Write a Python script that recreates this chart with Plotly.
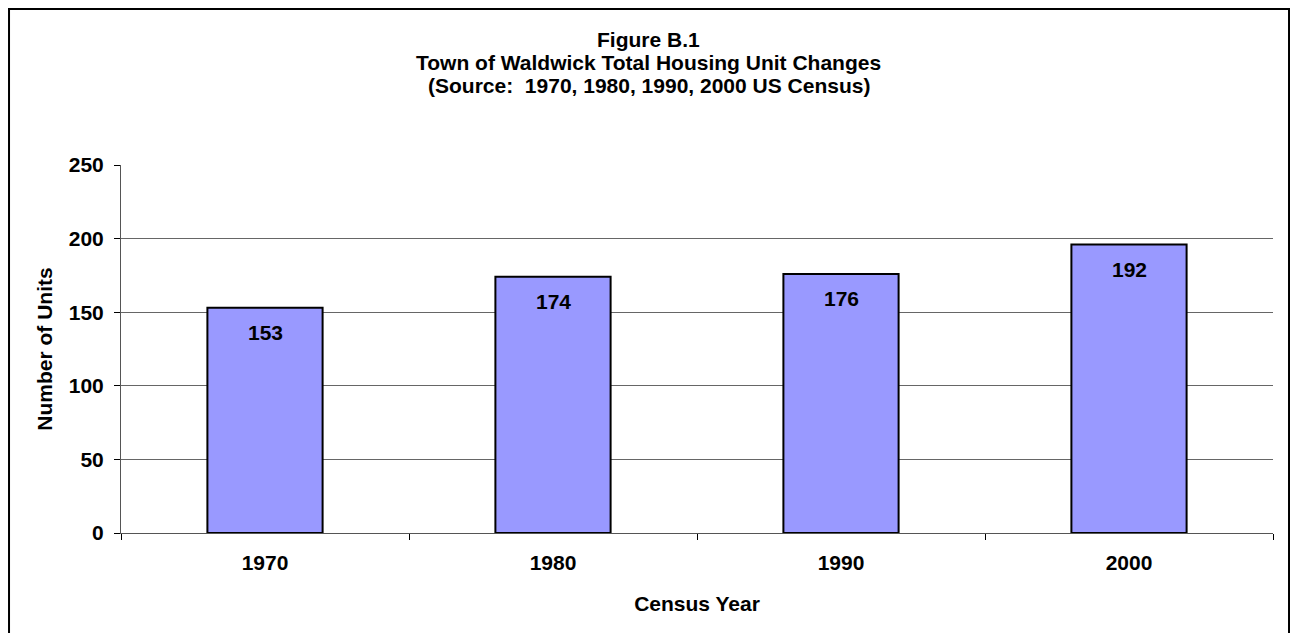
import plotly.graph_objects as go

years = ['1970', '1980', '1990', '2000']
units = [153, 174, 176, 196]
unit_labels = ['153', '174', '176', '192']
y_ticks = [0, 50, 100, 150, 200, 250]
title_lines = ['Figure B.1',
               'Town of Waldwick Total Housing Unit Changes',
               '(Source:  1970, 1980, 1990, 2000 US Census)']

font_family = 'Liberation Sans, Arial, sans-serif'
bold = dict(family=font_family, size=21, color='black', weight='bold')

fig = go.Figure()

fig.add_trace(go.Bar(
    x=years,
    y=units,
    width=0.4,
    marker=dict(color='#9999FF', line=dict(color='black', width=2)),
    showlegend=False,
    hoverinfo='skip',
))

# value labels inside the top of each bar (x given as category index)
for i, (val, lab) in enumerate(zip(units, unit_labels)):
    fig.add_annotation(x=i, y=val, text=lab, showarrow=False,
                       yshift=-25, font=bold)

# three-line title, tighter spacing than a <br> title
for line, ty in zip(title_lines, [1.3397, 1.2772, 1.2147]):
    fig.add_annotation(xref='paper', yref='paper', x=0.4583, y=ty, text=line,
                       showarrow=False, xanchor='center', yanchor='middle', font=bold)

# outer frame around the whole chart
fig.add_shape(type='rect', xref='paper', yref='paper',
              x0=-0.0972, x1=1.0139, y0=-0.32, y1=1.4239,
              line=dict(color='black', width=2), fillcolor='rgba(0,0,0,0)', layer='below')

fig.update_layout(
    width=1282, height=625,
    margin=dict(l=113, r=17, t=157, b=100),
    plot_bgcolor='white', paper_bgcolor='white',
    font=dict(family=font_family, color='black'),
)

fig.update_xaxes(
    type='category', range=[-0.5, 3.5],
    title=dict(text='Census Year', font=bold, standoff=23),
    tickfont=bold, ticklabelstandoff=11,
    showline=True, linecolor='#555', linewidth=1,
    ticks='outside', ticklen=6, tickcolor='black', tickson='boundaries',
    showgrid=False, automargin=False,
)

fig.update_yaxes(
    title=dict(text='Number of Units', font=bold, standoff=10),
    range=[0, 250], tickvals=y_ticks,
    tickfont=bold, ticklabelstandoff=6,
    showline=True, linecolor='#555', linewidth=1,
    ticks='outside', ticklen=6, tickcolor='black',
    showgrid=True, gridcolor='#666', gridwidth=1,
    zeroline=False, automargin=False,
)

fig.write_html('out.html')
